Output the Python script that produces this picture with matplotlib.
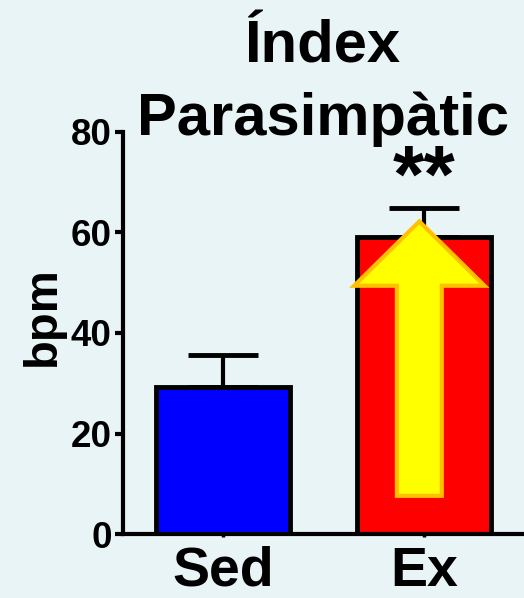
import matplotlib
matplotlib.use("Agg")
import matplotlib.pyplot as plt
from matplotlib.patches import FancyArrow

plt.rcParams['font.family'] = ['Liberation Sans', 'DejaVu Sans']
plt.rcParams['font.weight'] = 'bold'

categories = ["Sed", "Ex"]
means = [29.3, 59.2]
errors = [6.3, 5.6]
bar_colors = ["#0000FF", "#FF0000"]
yticks = [0, 20, 40, 60, 80]
title = "Índex\nParasimpàtic"
ylabel = "bpm"
significance = "**"

bg = "#E9F4F7"
fig = plt.figure(figsize=(5.24, 5.98), dpi=100, facecolor=bg)
ax = fig.add_axes([0.2347, 0.107, 0.7653, 0.6723], facecolor=bg)

x = list(range(len(categories)))
ax.bar(x, means, width=0.667, color=bar_colors, edgecolor="black",
       linewidth=3.5, zorder=2)
ax.errorbar(x, means, yerr=[[0] * len(means), errors], fmt="none",
            ecolor="black", elinewidth=3, capsize=25, capthick=3.5, zorder=1)

# yellow up-arrow inside the Ex bar
arr = FancyArrow(0.978, 7.6, 0, 62.2 - 7.6, width=0.224, head_width=0.65,
                 head_length=62.2 - 49.4, length_includes_head=True,
                 facecolor="#FFFF00", edgecolor="#FFC000", linewidth=3, zorder=3)
ax.add_patch(arr)

ax.text(1, means[1] + errors[1] + 5.5, significance, ha="center", va="center",
        fontsize=58, fontweight="bold")

ax.set_xlim(-0.5, 1.5)
ax.set_ylim(0, 80)
ax.set_yticks(yticks)
ax.set_xticks(x)
ax.set_xticklabels(categories, fontsize=40, fontweight="bold")
ax.set_yticklabels([str(t) for t in yticks], fontsize=26.5, fontweight="bold")
ax.set_ylabel(ylabel, fontsize=34, fontweight="bold")
ax.yaxis.set_label_coords(-0.145, 0.543)
ax.set_title(title, fontsize=43, fontweight="bold", linespacing=1.39,
             y=1.0, pad=-2)

for s in ["top", "right"]:
    ax.spines[s].set_visible(False)
for s in ["left", "bottom"]:
    ax.spines[s].set_linewidth(3)
ax.tick_params(axis="y", length=6, width=3, pad=2)
ax.tick_params(axis="x", length=2.5, width=2.5, pad=6)

fig.savefig("out.png", dpi=100, facecolor=bg)
